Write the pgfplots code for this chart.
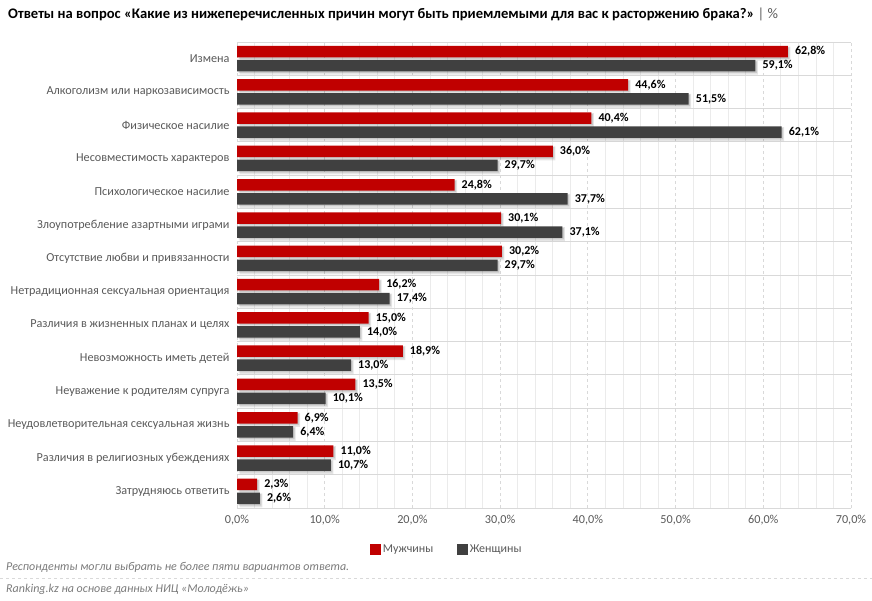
\documentclass[border=0pt]{standalone}
\usepackage{pgfplots}
\pgfplotsset{compat=1.18}
\usepackage{pgfplotstable}
\usepackage{fontspec}
\setmainfont{Carlito}
\definecolor{cred}{HTML}{C00000}
\definecolor{cgray}{HTML}{404040}
\definecolor{ctext}{HTML}{595959}
\definecolor{cgrid}{HTML}{D9D9D9}
\definecolor{cminor}{HTML}{EBEBEB}

\pgfplotstableread{
y men women
13 62.8 59.1
12 44.6 51.5
11 40.4 62.1
10 36.0 29.7
9 24.8 37.7
8 30.1 37.1
7 30.2 29.7
6 16.2 17.4
5 15.0 14.0
4 18.9 13.0
3 13.5 10.1
2 6.9 6.4
1 11.0 10.7
0 2.3 2.6
}\datatable

\begin{document}
\begin{tikzpicture}
\path[use as bounding box] (0,0) rectangle (872pt,601pt);
\node[anchor=west, inner sep=0pt, font=\fontsize{14.6}{17}\selectfont] at (8pt,587pt)
  {\bfseries Ответы на вопрос «Какие из нижеперечисленных причин могут быть приемлемыми для вас к расторжению брака?»\mdseries\ \textcolor{ctext}{|~\%}};
\begin{axis}[
  at={(237pt,93pt)}, anchor=south west,
  scale only axis, width=614pt, height=466pt,
  xmin=0, xmax=70, ymin=-0.5, ymax=13.5,
  xtick={0,10,...,70}, minor x tick num=4,
  ytick={0,...,13},
  minor ytick={-0.5,0.5,...,13.5},
  yticklabels={Затрудняюсь ответить, Различия в религиозных убеждениях, Неудовлетворительная сексуальная жизнь, Неуважение к родителям супруга, Невозможность иметь детей, Различия в жизненных планах и целях, Нетрадиционная сексуальная ориентация, Отсутствие любви и привязанности, Злоупотребление азартными играми, Психологическое насилие, Несовместимость характеров, Физическое насилие, Алкоголизм или наркозависимость, Измена},
  xticklabel={\pgfmathprintnumber[fixed,fixed zerofill,precision=1,use comma,assume math mode=true]{\tick}\%},
  /pgf/number format/assume math mode=true,
  major tick length=0pt, minor tick length=0pt,
  axis line style={draw=none},
  xmajorgrids, xminorgrids, yminorgrids,
  major x grid style={cgrid, dashed, line width=0.8pt},
  minor x grid style={cminor, line width=0.8pt},
  minor y grid style={cgrid, line width=0.8pt},
  tick label style={font=\fontsize{12.2}{14}\selectfont, text=ctext},
  yticklabel style={xshift=-4pt},
  xticklabel style={yshift=-4pt},
  xbar, bar width=11.5pt,
  lbl/.style={nodes near coords={\pgfmathprintnumber[fixed,fixed zerofill,precision=1,use comma,assume math mode=true]{\pgfplotspointmeta}\%},
  every node near coord/.append style={font=\bfseries\fontsize{12}{14}\selectfont, text=black, anchor=west, inner sep=1pt, xshift=6pt}},
  shd/.style={fill=black, draw=none, fill opacity=#1, forget plot},
  legend style={at={(0.342,-0.088)}, anchor=center, draw=none, fill=none, font=\fontsize{12}{14}\selectfont, text=ctext, legend columns=2, /tikz/every even column/.append style={column sep=22pt}},
  clip=false,
]
% shadows
\addplot[shd=0.10, bar shift=5pt, bar width=14pt, xshift=2.5pt] table[x=men,y=y]{\datatable};
\addplot[shd=0.12, bar shift=5.5pt, bar width=11.5pt, xshift=1.5pt] table[x=men,y=y]{\datatable};
\addplot[shd=0.10, bar shift=-9pt, bar width=14pt, xshift=2.5pt] table[x=women,y=y]{\datatable};
\addplot[shd=0.12, bar shift=-8.5pt, bar width=11.5pt, xshift=1.5pt] table[x=women,y=y]{\datatable};
% bars
\addplot[fill=cred, draw=none, bar shift=7pt, forget plot, lbl] table[x=men,y=y]{\datatable};
\addplot[fill=cgray, draw=none, bar shift=-7pt, forget plot, lbl] table[x=women,y=y]{\datatable};
\addlegendimage{legend image code/.code={\fill[cred] (0pt,-5pt) rectangle (10pt,5pt);}}
\addlegendentry{Мужчины}
\addlegendimage{legend image code/.code={\fill[cgray] (0pt,-5pt) rectangle (10pt,5pt);}}
\addlegendentry{Женщины}
\end{axis}
\node[anchor=west, inner sep=0pt, font=\itshape\fontsize{12}{14}\selectfont, text=ctext!80] at (6pt,34pt) {Респонденты могли выбрать не более пяти вариантов ответа.};
\draw[cgrid, dashed, line width=0.8pt] (0pt,23pt) -- (872pt,23pt);
\node[anchor=west, inner sep=0pt, font=\itshape\fontsize{12}{14}\selectfont, text=ctext!80] at (6pt,12pt) {Ranking.kz на основе данных НИЦ «Молодёжь»};
\end{tikzpicture}
\end{document}
